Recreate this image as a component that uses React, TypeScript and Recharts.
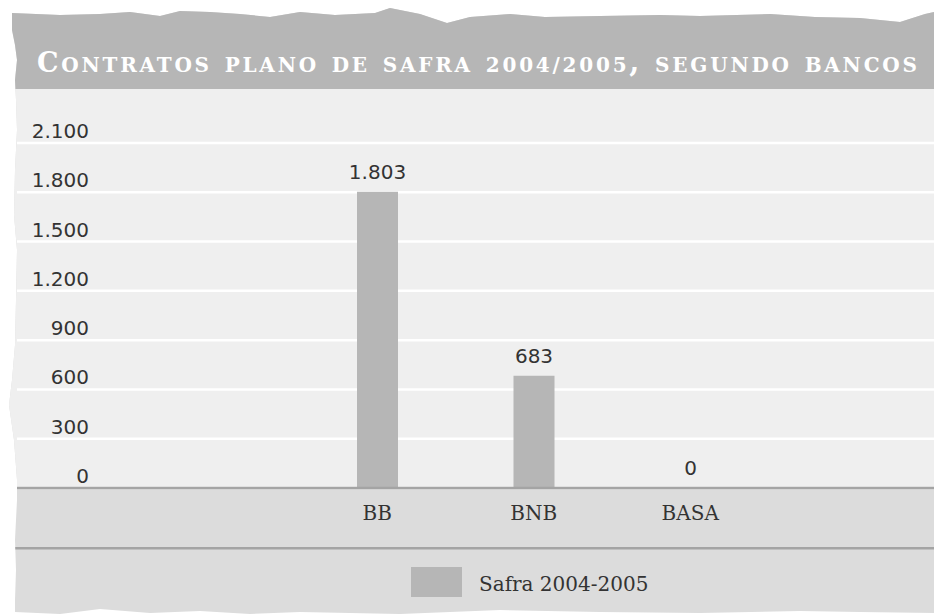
import React from 'react';
import { BarChart, Bar, XAxis, YAxis, CartesianGrid, LabelList, Legend } from 'recharts';

const categories = ['BB', 'BNB', 'BASA'];
const contratos = [1803, 683, 0];
const yTicks = [0, 300, 600, 900, 1200, 1500, 1800, 2100];
const seriesName = 'Safra 2004-2005';
const titleInitial = 'C';
const titleStart = 'ontratos plano de safra ';
const titleYears = '2004/2005';
const titleEnd = ', segundo bancos';

const data = categories.map((c, i) => ({ banco: c, valor: contratos[i] }));

const fmt = (v: number) => String(v).replace(/\B(?=(\d{3})+(?!\d))/g, '.');

const W = 934;
const H = 615;
const PANEL = '#dcdcdc';
const BAND = '#b6b6b6';
const PLOT = '#efefef';
const LINE = '#a4a4a4';
const TEXT = '#333333';

const topEdge: number[][] = [
  [12, 13], [60, 15], [100, 14], [130, 12], [160, 16], [180, 11], [210, 12], [240, 14],
  [270, 17], [300, 12], [335, 15], [375, 13], [390, 8], [420, 14], [447, 23], [470, 17],
  [510, 14], [545, 17], [600, 16], [660, 15], [700, 16], [770, 14], [815, 17], [860, 18],
  [900, 22], [925, 14], [934, 12],
];
const bottomEdge: number[][] = [
  [934, 613], [860, 612], [800, 611], [700, 613], [600, 612], [500, 610], [400, 614],
  [300, 612], [250, 614], [200, 611], [150, 613], [100, 609], [60, 614], [15, 612],
];
const leftEdge: number[][] = [
  [15, 600], [16, 570], [15, 540], [17, 500], [17, 480], [14, 440], [9, 405], [12, 380],
  [15, 345], [16, 300], [17, 250], [14, 215], [15, 170], [17, 130], [16, 100], [15, 80],
  [17, 60], [15, 45], [12, 30],
];

const panelPath =
  'M' + topEdge.map((p) => p.join(',')).join(' L') +
  ' L' + bottomEdge.map((p) => p.join(',')).join(' L') +
  ' L' + leftEdge.map((p) => p.join(',')).join(' L') + ' Z';

const YTick = (props: any) => (
  <text
    x={89}
    y={props.y - 5}
    textAnchor="end"
    fontFamily="DejaVu Sans"
    fontSize={20}
    fill={TEXT}
  >
    {fmt(props.payload.value)}
  </text>
);

const XTick = (props: any) => (
  <text
    x={props.x}
    y={props.y}
    dy={32}
    textAnchor="middle"
    fontFamily="DejaVu Serif"
    fontSize={20}
    fill={TEXT}
  >
    {props.payload.value}
  </text>
);

const LegendContent = (props: any) => {
  const items = props.payload || [];
  return (
    <div style={{ height: 67, display: 'flex', alignItems: 'center' }}>
      {items.map((it: any) => (
        <React.Fragment key={it.value}>
          <span style={{ display: 'inline-block', width: 51, height: 30, background: it.color }} />
          <span
            style={{
              marginLeft: 17,
              fontFamily: 'DejaVu Serif',
              fontSize: 20,
              color: TEXT,
              position: 'relative',
              top: 2,
              whiteSpace: 'nowrap',
            }}
          >
            {it.value}
          </span>
        </React.Fragment>
      ))}
    </div>
  );
};

export default function App() {
  return (
    <div style={{ position: 'absolute', left: 0, top: 0, width: W, height: H, overflow: 'hidden', background: '#ffffff' }}>
      <style>{'body{margin:0;overflow:hidden;}'}</style>
      <svg width={W} height={H} style={{ position: 'absolute', left: 0, top: 0 }}>
        <defs>
          <clipPath id="panelClip">
            <path d={panelPath} />
          </clipPath>
        </defs>
        <path d={panelPath} fill={PANEL} />
        <g clipPath="url(#panelClip)">
          <rect x={0} y={0} width={W} height={89} fill={BAND} />
          <rect x={0} y={89} width={W} height={399} fill={PLOT} />
          <line x1={0} x2={W} y1={548.3} y2={548.3} stroke={LINE} strokeWidth={2.5} />
        </g>
        <text
          x={37}
          y={72}
          fill="#ffffff"
          fontFamily="DejaVu Serif"
          fontWeight="bold"
          style={{ fontVariant: 'small-caps' }}
          textLength={880}
          lengthAdjust="spacing"
        >
          <tspan fontSize={27}>{titleInitial}</tspan>
          <tspan fontSize={29}>{titleStart}</tspan>
          <tspan fontSize={20}>{titleYears}</tspan>
          <tspan fontSize={29}>{titleEnd}</tspan>
        </text>
      </svg>
      <div style={{ position: 'absolute', left: 0, top: 0 }}>
        <BarChart width={W} height={H} data={data} margin={{ top: 143, right: 0, left: 0, bottom: 0 }}>
          <CartesianGrid horizontal vertical={false} stroke="#ffffff" strokeWidth={2.5} />
          <YAxis
            type="number"
            domain={[0, 2100]}
            ticks={yTicks}
            width={17}
            axisLine={false}
            tickLine={false}
            tick={(p: any) => <YTick {...p} />}
            interval={0}
          />
          <XAxis
            dataKey="banco"
            height={60}
            padding={{ left: 282, right: 165.5 }}
            axisLine={{ stroke: LINE, strokeWidth: 2.5 }}
            tickLine={false}
            tickSize={0}
            tickMargin={0}
            tick={(p: any) => <XTick {...p} />}
            interval={0}
          />
          <Legend
            verticalAlign="bottom"
            align="left"
            wrapperStyle={{ left: 411, bottom: 0, width: 320, height: 67 }}
            content={(p: any) => <LegendContent {...p} />}
          />
          <Bar dataKey="valor" name={seriesName} fill={BAND} barSize={41} minPointSize={0.1} isAnimationActive={false}>
            <LabelList
              dataKey="valor"
              position="top"
              offset={13}
              formatter={(v: any) => fmt(Number(v))}
              fill={TEXT}
              fontFamily="DejaVu Sans"
              fontSize={20}
            />
          </Bar>
        </BarChart>
      </div>
    </div>
  );
}
